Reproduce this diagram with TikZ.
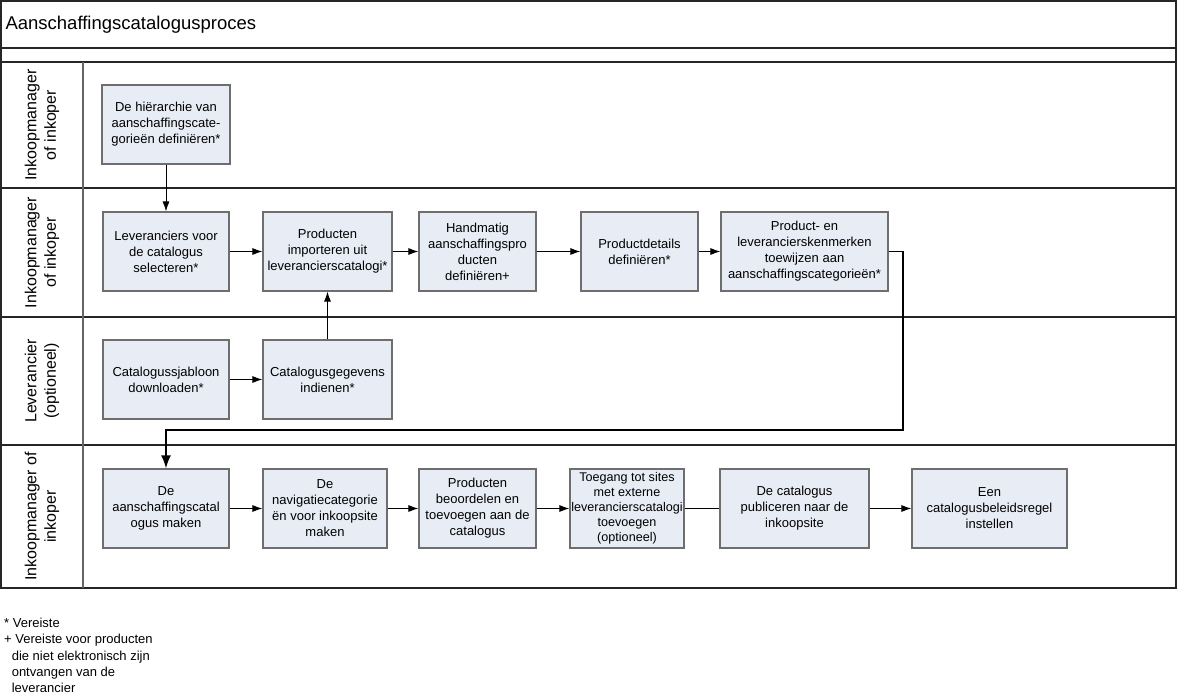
\documentclass[tikz,border=0pt]{standalone}
\usepackage{fontspec}
\setmainfont{Liberation Sans}
\usetikzlibrary{arrows.meta,positioning}
\definecolor{procfill}{RGB}{232,236,245}
\definecolor{procline}{RGB}{110,110,110}
\tikzset{proc/.style={draw=procline,fill=procfill,line width=1.2pt,align=center,
        minimum height=79pt,inner sep=2pt,font=\fontsize{13}{16}\selectfont},
    lanelabel/.style={rotate=90,align=center,font=\fontsize{16}{19.5}\selectfont},
    flow/.style={-{Latex[length=10pt,width=7pt]},line width=0.9pt},
    bigflow/.style={-{Latex[length=13pt,width=10pt]},line width=1.9pt}}

\begin{document}
\begin{tikzpicture}[x=1pt,y=-1pt]
    \useasboundingbox (0,0) rectangle (1178,695);
    % frame and lanes
    \draw[line width=1.4pt,draw=black!85] (1,1) rectangle (1176,588);
    \foreach \y in {48,62,188,317,445} {
        \draw[line width=1.4pt,draw=black!85] (1,\y) -- (1176,\y);
    }
    \draw[line width=1.2pt,draw=black!60] (83,62) -- (83,588);
    \node[anchor=west,font=\fontsize{18.5}{22}\selectfont] (title) at (2,25) {Aanschaffingscatalogusproces};
    \node[lanelabel] (lane1) at (42,125) {Inkoopmanager\\of inkoper};
    \node[lanelabel] (lane2) at (42,252.5) {Inkoopmanager\\of inkoper};
    \node[lanelabel] (lane3) at (42,381) {Leverancier\\(optioneel)};
    \node[lanelabel] (lane4) at (42,516.5) {Inkoopmanager of\\inkoper};
    % steps
    \node[proc,minimum width=128pt] (hier) at (166,124.5) {De hiërarchie van\\aanschaffingscate-\\gorieën definiëren*};
    \node[proc,minimum width=126pt] (lev) at (166,251.5) {Leveranciers voor\\de catalogus\\selecteren*};
    \node[proc,minimum width=129pt] (imp) at (327.5,251.5) {Producten\\importeren uit\\leverancierscatalogi*};
    \node[proc,minimum width=117pt] (hand) at (477.5,251.5) {Handmatig\\aanschaffingspro\\ducten\\definiëren+};
    \node[proc,minimum width=117pt] (det) at (639.5,251.5) {Productdetails\\definiëren*};
    \node[proc,minimum width=167pt] (ken) at (804.5,251.5) {Product- en\\leverancierskenmerken\\toewijzen aan\\aanschaffingscategorieën*};
    \node[proc,minimum width=126pt] (sjab) at (166,379.5) {Catalogussjabloon\\downloaden*};
    \node[proc,minimum width=129pt] (geg) at (327.5,379.5) {Catalogusgegevens\\indienen*};
    \node[proc,minimum width=126pt] (maak) at (166,508.5) {De\\aanschaffingscatal\\ogus maken};
    \node[proc,minimum width=124pt] (nav) at (325,508.5) {De\\navigatiecategorie\\ën voor inkoopsite\\maken};
    \node[proc,minimum width=117pt] (beo) at (477.5,508.5) {Producten\\beoordelen en\\toevoegen aan de\\catalogus};
    \node[proc,minimum width=114pt,inner sep=0pt,font=\fontsize{12.6}{15}\selectfont] (toe) at (627,508.5) {Toegang tot sites\\met externe\\leverancierscatalogi\\toevoegen\\(optioneel)};
    \node[proc,minimum width=149pt] (pub) at (794.5,508.5) {De catalogus\\publiceren naar de\\inkoopsite};
    \node[proc,minimum width=155pt] (regel) at (989.5,508.5) {Een\\catalogusbeleidsregel\\instellen};
    % connectors
    \draw[flow] (hier) -- (lev);
    \draw[flow] (lev) -- (imp);
    \draw[flow] (imp) -- (hand);
    \draw[flow] (hand) -- (det);
    \draw[flow] (det) -- (ken);
    \draw[flow] (sjab) -- (geg);
    \draw[flow] (geg) -- (imp);
    \coordinate (turn) at (903,430);
    \draw[bigflow] (ken.east) -| (turn) -| (maak.north);
    \draw[flow] (maak) -- (nav);
    \draw[flow] (nav) -- (beo);
    \draw[flow] (beo) -- (toe);
    \draw[line width=0.9pt] (toe) -- (pub);
    \draw[flow] (pub) -- (regel);
    % notes
    \node[anchor=north west,align=left,inner sep=0pt,font=\fontsize{13}{16.2}\selectfont] (notes) at (4,618)
        {* Vereiste\\+ Vereiste voor producten\\\phantom{+}die niet elektronisch zijn\\\phantom{+}ontvangen van de\\\phantom{+}leverancier};
\end{tikzpicture}
\end{document}
